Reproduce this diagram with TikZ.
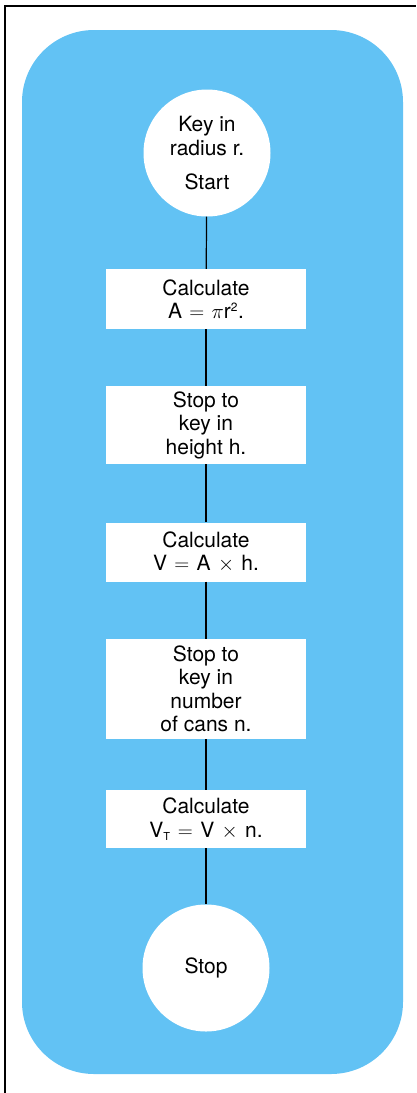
\documentclass[tikz,border=0pt]{standalone}
\usepackage{fontspec}
\setmainfont{TeX Gyre Heros}
\usepackage{tikz}
\usetikzlibrary{positioning}
\definecolor{CanBlue}{RGB}{98,194,244}
\newcommand{\gap}{\hspace{0.35em}}

\begin{document}
\begin{tikzpicture}[
x=1pt,y=-1pt,
term/.style={circle,fill=white,minimum size=127pt,inner sep=0pt,align=center,font=\fontsize{21}{24}\selectfont},
stepbox/.style={rectangle,fill=white,minimum width=200pt,inner sep=0pt,align=center,font=\fontsize{21}{23.5}\selectfont},
link/.style={line width=1.2pt,black}
]
\useasboundingbox (0,0) rectangle (416,1093);
% frame and panel
\draw[line width=1.4pt] (5,1093) -- (5,6) -- (416,6);
\fill[CanBlue,rounded corners=72pt] (22,30) rectangle (403,1074);
% flow
\node[term] (start) at (207,153) {Key in\\radius r.\\[10pt]Start};
\node[stepbox,minimum height=60pt] (area) at (206,299) {Calculate\\A\gap$=$\gap$\pi$r\textsuperscript{\fontsize{12}{12}\selectfont 2}.};
\node[stepbox,minimum height=78pt] (height) at (206,425) {Stop to\\key in\\height h.};
\node[stepbox,minimum height=59pt] (vol) at (206,552) {Calculate\\V\gap$=$\gap A\gap$\times$\gap h.};
\node[stepbox,minimum height=100pt] (cans) at (206,689) {Stop to\\key in\\number\\of cans n.};
\node[stepbox,minimum height=58pt] (total) at (206,819) {Calculate\\V\textsubscript{\fontsize{11}{11}\selectfont T}\gap$=$\gap V\gap$\times$\gap n.};
\node[term] (stop) at (206,968) {Stop};
\draw[link] (start) -- (area);
\draw[link] (area) -- (height);
\draw[link] (height) -- (vol);
\draw[link] (vol) -- (cans);
\draw[link] (cans) -- (total);
\draw[link] (total) -- (stop);
\end{tikzpicture}
\end{document}
